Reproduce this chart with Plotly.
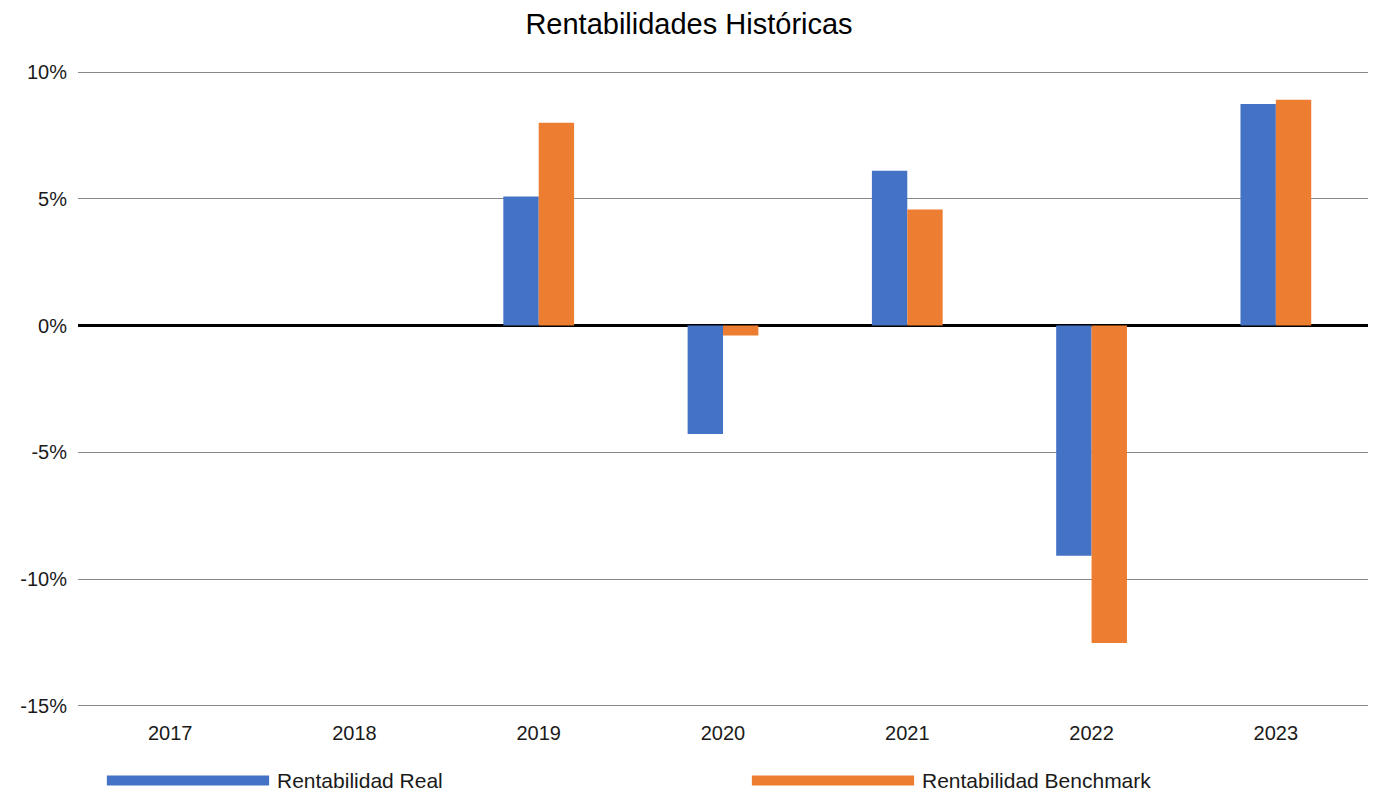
import plotly.graph_objects as go

years = ["2017", "2018", "2019", "2020", "2021", "2022", "2023"]
real = [None, None, 5.09, -4.27, 6.11, -9.08, 8.74]
benchmark = [None, None, 8.0, -0.39, 4.58, -12.52, 8.91]
series_names = ["Rentabilidad Real", "Rentabilidad Benchmark"]
colors = ["#4472C4", "#ED7D31"]
y_ticks = [10, 5, 0, -5, -10, -15]
y_tick_labels = ["10%", "5%", "0%", "-5%", "-10%", "-15%"]

OFF = 8  # page body margin
W, H = 1383 - OFF, 794 - OFF
L, R, T, B = 72 - OFF, 15, 71 - OFF, 87
FONT = "Arial, Liberation Sans, sans-serif"

fig = go.Figure()
for name, vals, col in zip(series_names, [real, benchmark], colors):
    fig.add_trace(go.Bar(x=years, y=vals, name=name, marker=dict(color=col, line=dict(width=0)),
                         showlegend=False))

# custom legend with long swatches (positions given in page pixels)
pw, ph = W - L - R, H - T - B
def px(x):
    return (x - OFF - L) / pw
def py(y):
    return (H - B - (y - OFF)) / ph

legend_items = [(101, 264, 270), (749, 912, 918)]
for (x0, x1, tx), name, col in zip(legend_items, series_names, colors):
    fig.add_shape(type="rect", xref="paper", yref="paper", x0=px(x0), x1=px(x1),
                  y0=py(785.5), y1=py(775.5), fillcolor=col, line=dict(width=0))
    fig.add_annotation(xref="paper", yref="paper", x=px(tx), y=py(780), text=name,
                       showarrow=False, xanchor="left", yanchor="middle",
                       font=dict(family=FONT, size=21, color="#1a1a1a"))

fig.update_layout(
    width=W, height=H,
    margin=dict(l=L, r=R, t=T, b=B),
    paper_bgcolor="white", plot_bgcolor="white",
    barmode="group", bargap=0.616, bargroupgap=0,
    title=dict(text="Rentabilidades Históricas", x=(689 - OFF) / W, xref="container",
               xanchor="center",
               y=1 - (24 - OFF) / H, yanchor="middle", yref="container",
               font=dict(family=FONT, size=29, color="#000000")),
    font=dict(family=FONT, size=20, color="#1a1a1a"),
    xaxis=dict(type="category", showgrid=False, showline=False, ticks="",
               ticklabelstandoff=12,
               tickfont=dict(family=FONT, size=20, color="#1a1a1a")),
    yaxis=dict(range=[-15.04, 10.04], autorange=False, tickvals=y_ticks, ticktext=y_tick_labels,
               showgrid=True, gridcolor="#888888", gridwidth=1,
               zeroline=True, zerolinecolor="#000000", zerolinewidth=3,
               showline=False, ticks="", ticklabelstandoff=10,
               tickfont=dict(family=FONT, size=20, color="#1a1a1a")),
)

fig.write_html("out.html")
